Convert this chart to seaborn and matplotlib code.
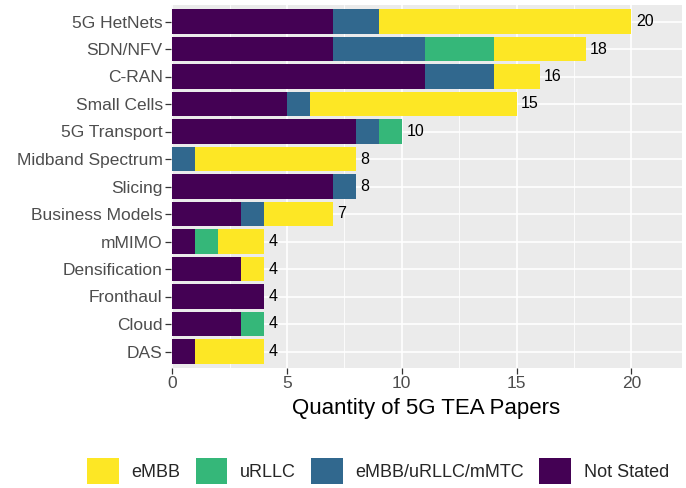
import matplotlib
matplotlib.use("Agg")
import matplotlib.pyplot as plt
from matplotlib.patches import Patch
import seaborn as sns
import pandas as pd

categories = ["5G HetNets", "SDN/NFV", "C-RAN", "Small Cells", "5G Transport",
              "Midband Spectrum", "Slicing", "Business Models", "mMIMO",
              "Densification", "Fronthaul", "Cloud", "DAS"]
not_stated = [7, 7, 11, 5, 8, 0, 7, 3, 1, 3, 4, 3, 1]
embb_urllc_mmtc = [2, 4, 3, 1, 1, 1, 1, 1, 0, 0, 0, 0, 0]
urllc = [0, 3, 0, 0, 1, 0, 0, 0, 1, 0, 0, 1, 0]
embb = [11, 4, 2, 9, 0, 7, 0, 3, 2, 1, 0, 0, 3]
series_names = ["eMBB", "uRLLC", "eMBB/uRLLC/mMTC", "Not Stated"]
colors = {"eMBB": "#FDE725", "uRLLC": "#35B779",
          "eMBB/uRLLC/mMTC": "#31688E", "Not Stated": "#440154"}
x_ticks = [0, 5, 10, 15, 20]

df = pd.DataFrame({"cat": categories, "Not Stated": not_stated,
                   "eMBB/uRLLC/mMTC": embb_urllc_mmtc, "uRLLC": urllc, "eMBB": embb})
stack_order = ["Not Stated", "eMBB/uRLLC/mMTC", "uRLLC", "eMBB"]
cum = df[stack_order].cumsum(axis=1)
df["total"] = cum["eMBB"]

sns.set_theme(style="darkgrid")
plt.rcParams["font.family"] = ["Liberation Sans", "DejaVu Sans"]

fig = plt.figure(figsize=(6.86, 4.88), dpi=100)
ax = fig.add_axes([171 / 686, 1 - 368 / 488, (682 - 171) / 686, (368 - 5) / 488])
ax.set_facecolor("#EBEBEB")

for s in reversed(stack_order):
    sns.barplot(x=cum[s], y=df["cat"], order=categories, orient="h",
                color=colors[s], saturation=1, width=0.9, ax=ax,
                edgecolor="none", linewidth=0)

for i, t in enumerate(df["total"]):
    ax.text(t + 0.2, i, str(int(t)), va="center", ha="left", fontsize=11.5, color="black")

ax.set_xlim(-0.05, 22.2)
ax.set_ylim(12.6, -0.6)
ax.set_xticks(x_ticks)
ax.set_xticks([2.5, 7.5, 12.5, 17.5], minor=True)
ax.grid(True, which="major", color="white", linewidth=1.2)
ax.grid(True, which="minor", axis="x", color="white", linewidth=0.6)
ax.set_axisbelow(True)
for sp in ax.spines.values():
    sp.set_visible(False)
ax.tick_params(axis="both", which="major", length=4, width=0.9, color="#333333",
               labelsize=12.5, labelcolor="#4D4D4D", pad=2, direction="out",
               bottom=True, left=True)
ax.tick_params(axis="both", which="minor", length=0)
ax.set_ylabel("")
ax.set_xlabel("Quantity of 5G TEA Papers", fontsize=16, color="black", labelpad=5)

handles = [Patch(facecolor=colors[n], edgecolor="none", label=n) for n in series_names]
fig.legend(handles=handles, loc="center", bbox_to_anchor=(378 / 686, 0.035), ncol=4,
           frameon=False, fontsize=13, handlelength=1.75, handleheight=1.8,
           columnspacing=0.85, handletextpad=0.7, borderpad=0)

fig.savefig("out.png", dpi=100)
